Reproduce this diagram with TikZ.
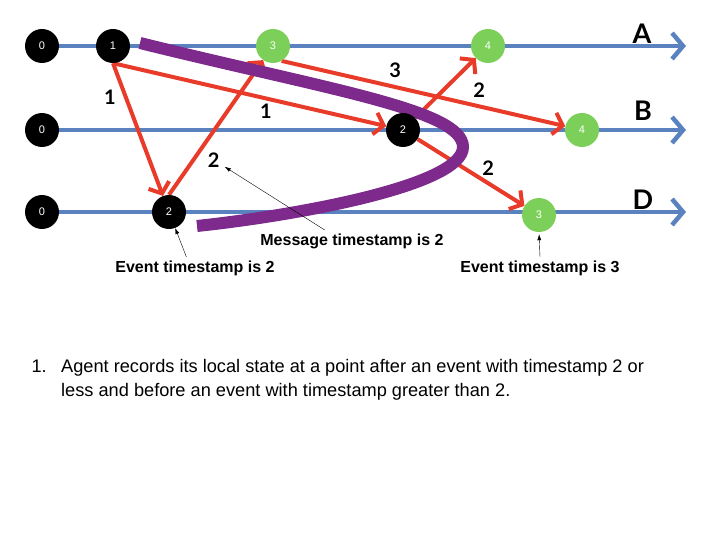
\documentclass[tikz,border=0pt]{standalone}
\usepackage{fontspec}
\setmainfont{Liberation Sans}
\newfontfamily\gillfont{Lato}
\usetikzlibrary{arrows.meta, positioning}
\pgfdeclarelayer{background}
\pgfsetlayers{background,main}
\definecolor{lineblue}{HTML}{5A82BF}
\definecolor{msgred}{HTML}{E83B2A}
\definecolor{cutpurple}{HTML}{7D2A8C}
\definecolor{evgreen}{HTML}{7CCF58}
\tikzstyle{past} = [circle, fill=black, text=white, minimum size=34pt, inner sep=0pt, font=\fontsize{11}{11}\selectfont]
\tikzstyle{future} = [past, fill=evgreen]
\tikzstyle{timeline} = [line width=4.5pt, draw=lineblue, -{Straight Barb[length=11pt,width=26pt]}]
\tikzstyle{msg} = [line width=4pt, draw=msgred, -{Straight Barb[length=9pt,width=22pt]}]
\tikzstyle{stamp} = [text=black, font=\gillfont\bfseries\fontsize{20}{20}\selectfont]
\tikzstyle{proc} = [font=\gillfont\bfseries\fontsize{27}{27}\selectfont]
\tikzstyle{note} = [font=\bfseries\fontsize{16}{16}\selectfont]
\tikzstyle{pointer} = [thin, draw=black, -{Latex[length=6pt,width=4pt]}]
\tikzstyle{cut} = [line width=12pt, draw=cutpurple]

\begin{document}
\begin{tikzpicture}[x=1pt, y=-1pt, node distance = 10pt]
	\useasboundingbox (0,0) rectangle (720,540);
	% events on the three process lines
	\node (A0) [past] at (42,46) {0};
	\node (A1) [past] at (113,46) {1};
	\node (A3) [future] at (273,46) {3};
	\node (A4) [future] at (488,46) {4};
	\node (B0) [past] at (42,130) {0};
	\node (B2) [past] at (403,130) {2};
	\node (B4) [future] at (582,130) {4};
	\node (D0) [past] at (42,212) {0};
	\node (D2) [past] at (169,212) {2};
	\node (D3) [future] at (539,215) {3};
	\coordinate (AEnd) at (686,46);
	\coordinate (BEnd) at (686,130);
	\coordinate (DEnd) at (686,212);
	\node (ProcA) [proc] at (642,34) {A};
	\node (ProcB) [proc] at (643,111) {B};
	\node (ProcD) [proc] at (643,200) {D};
	\begin{pgfonlayer}{background}
	\draw [timeline] (A0) -- (AEnd);
	\draw [timeline] (B0) -- (BEnd);
	\draw [timeline] (D0) -- (DEnd);
	% messages
	\draw [msg] (A1.south) -- node[stamp, pos=0.26, left=5pt] (TsA1D2) {1} (D2);
	\draw [msg] (A1.south) -- node[stamp, pos=0.56, below] (TsA1B2) {1} (B2);
	\draw [msg] (D2.north) -- node[stamp, pos=0.26, right=9pt] (TsD2A3) {2} (A3);
	\draw [msg] (A3.-60) -- node[stamp, pos=0.4, above=4pt] (TsA3B4) {3} (B4);
	\draw [msg] (B2) -- node[stamp, pos=0.46, right=25pt] (TsB2A4) {2} (A4);
	\draw [msg] (B2) -- node[stamp, pos=0.66, above=2pt] (TsB2D3) {2} (D3);
	% recorded cut
	\coordinate (CutStart) at (140,43);
	\coordinate (CutTip) at (463,147);
	\coordinate (CutEnd) at (197,226);
	\draw [cut] (CutStart) .. controls (330,90) and (463,110) .. (CutTip) .. controls (463,185) and (300,215) .. (CutEnd);
	\end{pgfonlayer}
	% notes
	\node (MsgNote) [note] at (352,241) {Message timestamp is 2};
	\node (EvNote2) [note] at (195,268) {Event timestamp is 2};
	\node (EvNote3) [note] at (540,268) {Event timestamp is 3};
	\draw [pointer] (MsgNote.158) -- (TsD2A3);
	\draw [pointer] (EvNote2.128) -- (D2);
	\draw [pointer, shorten >=2pt] (EvNote3.north) -- (D3.south);
	\node (Step1) [anchor=base west, font=\fontsize{18.2}{24}\selectfont] at (28,372) {1.};
	\node (StepText) [anchor=north west, inner sep=0pt, align=left, font=\fontsize{18.2}{24}\selectfont] at (61,359)
		{Agent records its local state at a point after an event with timestamp 2 or\\less and before an event with timestamp greater than 2.};
\end{tikzpicture}
\end{document}
